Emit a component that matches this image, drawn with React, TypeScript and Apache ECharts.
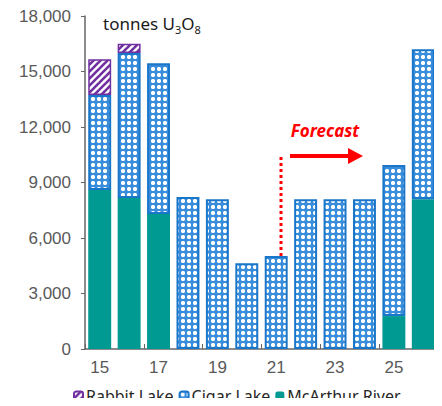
import React, { useEffect, useRef } from "react";
import * as echarts from "echarts";

const years = ["15", "16", "17", "18", "19", "20", "21", "22", "23", "24", "25", "26"];
const mcArthur = [8600, 8160, 7300, null, null, null, null, null, null, null, 1780, 8100];
const cigarLake = [5130, 7840, 8140, 8220, 8100, 4630, 5030, 8100, 8100, 8100, 8170, 8100];
const rabbitLake = [1930, 500, null, null, null, null, null, null, null, null, null, null];
const yTicks = { min: 0, max: 18000, interval: 3000 };

function makeCigarPattern() {
  const c = document.createElement("canvas");
  c.width = 6;
  c.height = 6;
  const g = c.getContext("2d")!;
  g.fillStyle = "#3a8ddb";
  g.fillRect(0, 0, 6, 6);
  g.fillStyle = "#8fc1ee";
  g.fillRect(1, 1, 1, 1);
  g.fillRect(4, 1, 1, 1);
  g.fillRect(1, 4, 1, 1);
  g.fillRect(4, 4, 1, 1);
  g.fillStyle = "#ffffff";
  g.fillRect(1, 2, 4, 2);
  g.fillRect(2, 1, 2, 4);
  return c;
}

function makeRabbitPattern() {
  const c = document.createElement("canvas");
  c.width = 7;
  c.height = 7;
  const g = c.getContext("2d")!;
  g.fillStyle = "#ffffff";
  g.fillRect(0, 0, 7, 7);
  g.strokeStyle = "#7030a0";
  g.lineWidth = 2.6;
  for (let k = -7; k <= 7; k += 7) {
    g.beginPath();
    g.moveTo(k - 1, 8);
    g.lineTo(k + 8, -1);
    g.stroke();
  }
  return c;
}

export default function App() {
  const ref = useRef<HTMLDivElement>(null);
  useEffect(() => {
    if (!ref.current) return;
    const chart = echarts.init(ref.current, null, { renderer: "svg" });
    const cigarFill = { image: makeCigarPattern(), repeat: "repeat" };
    const rabbitFill = { image: makeRabbitPattern(), repeat: "repeat" };
    const font = "'Noto Sans', sans-serif";
    const axisFont = "'Liberation Sans', sans-serif";
    chart.setOption({
      animation: false,
      textStyle: { fontFamily: font },
      grid: { left: 85, right: 4, top: 16, bottom: 57, containLabel: false },
      legend: {
        top: 388,
        left: 73,
        itemWidth: 9,
        itemHeight: 9,
        itemGap: 5,
        padding: 0,
        data: ["Rabbit Lake", "Cigar Lake", "McArthur River"],
        textStyle: { fontSize: 16, lineHeight: 16, color: "#262626", fontFamily: font, padding: [0, 0, 0, -2] },
      },
      xAxis: {
        type: "category",
        data: years,
        axisLine: { lineStyle: { color: "#666666", width: 1.5 } },
        axisTick: { show: true, inside: true, length: 5, interval: 1, lineStyle: { color: "#666666" } },
        axisLabel: { interval: 1, color: "#595959", fontSize: 17, margin: 10, fontFamily: axisFont },
      },
      yAxis: {
        type: "value",
        min: yTicks.min,
        max: yTicks.max,
        interval: yTicks.interval,
        splitLine: { show: false },
        axisLine: { show: true, lineStyle: { color: "#666666", width: 1.5 } },
        axisTick: { show: true, length: 4, lineStyle: { color: "#666666" } },
        axisLabel: {
          color: "#595959",
          fontSize: 17,
          margin: 14,
          fontFamily: axisFont,
          formatter: (v: number) => v.toLocaleString("en-US"),
        },
      },
      series: [
        {
          name: "McArthur River",
          type: "bar",
          stack: "s",
          barWidth: "78%",
          data: mcArthur,
          itemStyle: { color: "#009a93" },
        },
        {
          name: "Cigar Lake",
          type: "bar",
          stack: "s",
          data: cigarLake,
          itemStyle: { color: cigarFill, borderColor: "#1a76c9", borderWidth: 2 },
        },
        {
          name: "Rabbit Lake",
          type: "bar",
          stack: "s",
          data: rabbitLake,
          itemStyle: { color: rabbitFill, borderColor: "#7030a0", borderWidth: 1.5 },
        },
      ],
      graphic: [
        {
          type: "text",
          left: 103,
          top: 15,
          style: {
            text: "{a|tonnes U}{s|3}{a|O}{s|8}",
            fill: "#1a1a1a",
            fontFamily: font,
            rich: {
              a: { fontSize: 17, lineHeight: 22, fontFamily: font, fill: "#1a1a1a" },
              s: { fontSize: 11, lineHeight: 11, verticalAlign: "bottom", fontFamily: font, fill: "#1a1a1a" },
            },
          },
        },
        {
          type: "line",
          shape: { x1: 281, y1: 157, x2: 281, y2: 300 },
          style: { stroke: "#ff0000", lineWidth: 3, lineDash: [3, 3] },
        },
        {
          type: "line",
          shape: { x1: 290, y1: 156, x2: 350, y2: 156 },
          style: { stroke: "#ff0000", lineWidth: 4 },
        },
        {
          type: "polygon",
          shape: { points: [[348, 148], [363, 156], [348, 164]] },
          style: { fill: "#ff0000" },
        },
        {
          type: "text",
          x: 325,
          y: 130,
          style: {
            text: "Forecast",
            fontSize: 17,
            fontWeight: "bold",
            fontStyle: "italic",
            fill: "#ff0000",
            fontFamily: font,
            align: "center",
            verticalAlign: "middle",
          },
        },
      ],
    });
    return () => chart.dispose();
  }, []);
  return <div ref={ref} style={{ width: 442, height: 406, margin: -8 }} />;
}
